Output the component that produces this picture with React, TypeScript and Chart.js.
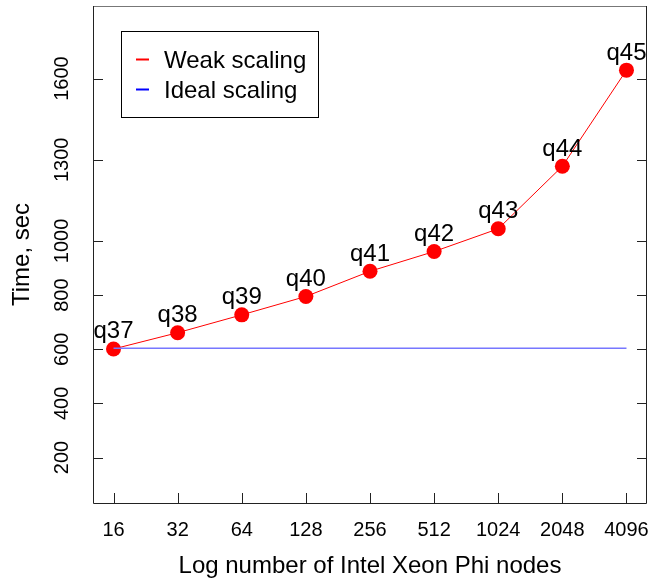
import React, { useEffect, useRef } from "react";
import { Chart, registerables } from "chart.js";

Chart.register(...registerables);

// ---- data ----
const nodes = [16, 32, 64, 128, 256, 512, 1024, 2048, 4096];
const pointLabels = ["q37", "q38", "q39", "q40", "q41", "q42", "q43", "q44", "q45"];
const weakTimes = [601, 661, 727, 795, 888, 961, 1045, 1276, 1631];
const idealTimes = [604, 604, 604, 604, 604, 604, 604, 604, 604];
const yTicks = [200, 400, 600, 800, 1000, 1300, 1600];
const yLimits = [32, 1868];
const xPadLog2 = 0.32;

const FONT = "'Liberation Sans', Arial, Helvetica, sans-serif";

const decorPlugin = {
  id: "decor",
  afterDatasetsDraw(chart: any) {
    const { ctx, chartArea } = chart;
    const { left, right, top, bottom } = chartArea;
    const xs = chart.scales.x;
    const ys = chart.scales.y;
    ctx.save();
    // box
    ctx.lineWidth = 1;
    ctx.strokeStyle = "#777";
    ctx.beginPath();
    ctx.moveTo(left, top + 0.5);
    ctx.lineTo(right, top + 0.5);
    ctx.stroke();
    ctx.strokeStyle = "#222";
    ctx.beginPath();
    ctx.moveTo(left + 0.5, top);
    ctx.lineTo(left + 0.5, bottom + 0.5);
    ctx.lineTo(right - 0.5, bottom + 0.5);
    ctx.lineTo(right - 0.5, top);
    ctx.stroke();
    // inward ticks
    ctx.beginPath();
    ys.ticks.forEach((t: any) => {
      const py = Math.round(ys.getPixelForValue(t.value)) + 0.5;
      ctx.moveTo(left, py);
      ctx.lineTo(left + 10, py);
      ctx.moveTo(right, py);
      ctx.lineTo(right - 10, py);
    });
    xs.ticks.forEach((t: any) => {
      const px = Math.round(xs.getPixelForValue(t.value)) + 0.5;
      ctx.moveTo(px, bottom);
      ctx.lineTo(px, bottom - 10);
    });
    ctx.stroke();

    // point labels
    const meta = chart.getDatasetMeta(1);
    ctx.fillStyle = "#000";
    ctx.font = `24px ${FONT}`;
    ctx.textAlign = "center";
    ctx.textBaseline = "alphabetic";
    meta.data.forEach((pt: any, i: number) => {
      ctx.fillText(pointLabels[i], pt.x, pt.y - 10.5);
    });

    // legend
    const lx = 121, ly = 31, lw = 197, lh = 86;
    ctx.fillStyle = "#fff";
    ctx.fillRect(lx, ly, lw, lh);
    ctx.lineWidth = 1;
    ctx.strokeStyle = "#000";
    ctx.strokeRect(lx + 0.5, ly + 0.5, lw, lh);
    const items = [chart.data.datasets[1], chart.data.datasets[0]];
    items.forEach((ds: any, i: number) => {
      const cy = 59.5 + i * 30;
      ctx.strokeStyle = ds.legendColor;
      ctx.lineWidth = 2;
      ctx.beginPath();
      ctx.moveTo(136, cy);
      ctx.lineTo(149, cy);
      ctx.stroke();
      ctx.fillStyle = "#000";
      ctx.font = `24px ${FONT}`;
      ctx.textAlign = "left";
      ctx.textBaseline = "alphabetic";
      ctx.fillText(ds.label, 164, cy + 8.5);
    });
    ctx.restore();
  },
};

export default function App() {
  const ref = useRef<HTMLCanvasElement | null>(null);
  useEffect(() => {
    if (!ref.current) return;
    const chart = new Chart(ref.current, {
      type: "line",
      data: {
        datasets: [
          {
            label: "Ideal scaling",
            data: nodes.map((n, i) => ({ x: n, y: idealTimes[i] })),
            borderColor: "#7777ff",
            legendColor: "#0000ff",
            borderWidth: 1.5,
            pointRadius: 0,
            fill: false,
          } as any,
          {
            label: "Weak scaling",
            data: nodes.map((n, i) => ({ x: n, y: weakTimes[i] })),
            borderColor: "#ff0000",
            legendColor: "#ff0000",
            borderWidth: 1,
            pointRadius: 7.5,
            pointBackgroundColor: "#ff0000",
            pointBorderWidth: 0,
            fill: false,
          } as any,
        ],
      },
      options: {
        animation: false,
        responsive: false,
        events: [],
        layout: { autoPadding: false, padding: { top: 6, right: 5, left: 0, bottom: 0 } },
        plugins: { legend: { display: false }, tooltip: { enabled: false } },
        scales: {
          x: {
            type: "logarithmic",
            min: nodes[0] / Math.pow(2, xPadLog2),
            max: nodes[nodes.length - 1] * Math.pow(2, xPadLog2),
            afterBuildTicks: (s: any) => {
              s.ticks = nodes.map((v) => ({ value: v }));
            },
            afterFit: (s: any) => {
              s.height = 78;
              s.paddingLeft = 0;
              s.paddingRight = 0;
            },
            grid: { display: false, drawTicks: false },
            border: { display: false },
            ticks: {
              autoSkip: false,
              maxRotation: 0,
              minRotation: 0,
              padding: 15,
              color: "#000",
              font: { family: FONT, size: 20 },
              callback: (v: any) => String(v),
            },
            title: {
              display: true,
              text: "Log number of Intel Xeon Phi nodes",
              color: "#000",
              font: { family: FONT, size: 24 },
              padding: { top: 0, bottom: 0 },
            },
          },
          y: {
            type: "linear",
            min: yLimits[0],
            max: yLimits[1],
            afterBuildTicks: (s: any) => {
              s.ticks = yTicks.map((v) => ({ value: v }));
            },
            afterFit: (s: any) => {
              s.width = 93;
              s.paddingTop = 0;
              s.paddingBottom = 0;
            },
            grid: { display: false, drawTicks: false },
            border: { display: false },
            ticks: {
              autoSkip: false,
              minRotation: 90,
              maxRotation: 90,
              crossAlign: "center",
              padding: 8,
              color: "#000",
              font: { family: FONT, size: 20 },
              callback: (v: any) => String(v),
            },
            title: {
              display: true,
              text: "Time, sec",
              color: "#000",
              font: { family: FONT, size: 24 },
              padding: { top: 8, bottom: 0 },
            },
          },
        },
      } as any,
      plugins: [decorPlugin],
    });
    return () => chart.destroy();
  }, []);
  return (
    <div style={{ position: "absolute", left: 0, top: 0, width: 652, height: 581, background: "#fff" }}>
      <canvas ref={ref} width={652} height={581} />
    </div>
  );
}
